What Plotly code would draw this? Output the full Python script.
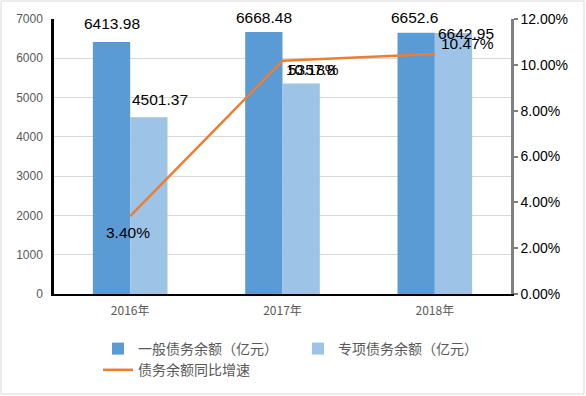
import plotly.graph_objects as go

years = ["2016年", "2017年", "2018年"]
general = [6413.98, 6668.48, 6652.6]
special = [4501.37, 5357.8, 6642.95]
growth = [3.40, 10.18, 10.47]
growth_labels = ["3.40%", "10.18%", "10.47%"]
left_ticks = [0, 1000, 2000, 3000, 4000, 5000, 6000, 7000]
right_ticks = [0, 2, 4, 6, 8, 10, 12]
right_tick_labels = ["0.00%", "2.00%", "4.00%", "6.00%", "8.00%", "10.00%", "12.00%"]

W, H = 586, 396
ml, mr, mt, mb = 54, 75, 19, 102
pw, ph = W - ml - mr, H - mt - mb

num_font = "Liberation Sans, Arial, sans-serif"
cjk_font = "Noto Sans CJK SC, sans-serif"

fig = go.Figure()
fig.add_trace(go.Bar(
    x=years, y=general, name="一般债务余额（亿元）",
    marker=dict(color="#5B9BD5", line=dict(width=0)),
))
fig.add_trace(go.Bar(
    x=years, y=special, name="专项债务余额（亿元）",
    marker=dict(color="#9DC3E6", line=dict(width=0)),
))
fig.add_trace(go.Scatter(
    x=years, y=growth, name="债务余额同比增速", yaxis="y2",
    mode="lines", line=dict(color="#ED7D31", width=2.5),
))

# data labels (pixel offsets from the mark, as placed in the reference)
half_bar = 18.5
gen_off = [(0, 19), (0, 15), (-2, 15)]
spe_off = [(11, 18), (10, 14), (13, 0)]
line_off = [(-2, -16), (30, -9), (33, 11)]
lab_font = dict(family=num_font, size=15.5, color="#000000")
for i, yr in enumerate(years):
    fig.add_annotation(x=yr, y=general[i], xref="x", yref="y", text=str(general[i]),
                       showarrow=False, xshift=-half_bar + gen_off[i][0], yshift=gen_off[i][1],
                       font=lab_font)
    fig.add_annotation(x=yr, y=special[i], xref="x", yref="y", text=str(special[i]),
                       showarrow=False, xshift=half_bar + spe_off[i][0], yshift=spe_off[i][1],
                       font=lab_font)
    fig.add_annotation(x=yr, y=growth[i], xref="x", yref="y2", text=growth_labels[i],
                       showarrow=False, xshift=line_off[i][0], yshift=line_off[i][1],
                       font=lab_font)

fig.update_layout(
    width=W, height=H,
    margin=dict(l=ml, r=mr, t=mt, b=mb),
    paper_bgcolor="white", plot_bgcolor="white",
    barmode="group", bargap=0.51, bargroupgap=0,
    font=dict(family=cjk_font, color="#595959"),
    xaxis=dict(
        showline=True, linecolor="#000000", linewidth=2,
        showgrid=False, ticks="", ticklabelstandoff=5,
        tickfont=dict(family=cjk_font, size=12, color="#595959"),
        zeroline=False,
    ),
    yaxis=dict(
        range=[0, 7000], tickvals=left_ticks, ticktext=[str(v) for v in left_ticks],
        showline=True, linecolor="#000000", linewidth=2.5,
        showgrid=True, gridcolor="#D9D9D9", gridwidth=1,
        ticks="", ticklen=0, ticklabelstandoff=6,
        tickfont=dict(family=num_font, size=12, color="#595959"),
        zeroline=False,
    ),
    yaxis2=dict(
        overlaying="y", side="right", range=[0, 12],
        tickvals=right_ticks, ticktext=right_tick_labels,
        showline=True, linecolor="#808080", linewidth=2.5,
        ticks="outside", ticklen=4, tickcolor="#808080", tickwidth=1.5,
        showgrid=False, zeroline=False,
        tickfont=dict(family=num_font, size=14, color="#000000"),
    ),
    legend=dict(
        orientation="h", xref="container", yref="container",
        x=98 / W, y=1 - 333 / H, xanchor="left", yanchor="top",
        font=dict(family=cjk_font, size=14, color="#595959"),
        entrywidth=155, tracegroupgap=0,
    ),
    showlegend=True,
)

# outer border
fig.add_shape(
    type="rect", xref="paper", yref="paper",
    x0=(1 - ml) / pw, x1=(W - 2 - ml) / pw,
    y0=-(H - 2 - mt - ph) / ph, y1=1 + (mt - 1) / ph,
    line=dict(color="#D9D9D9", width=1), fillcolor="rgba(0,0,0,0)", layer="below",
)

fig.write_html("out.html", post_script="document.body.style.margin='0';",
               config={"displayModeBar": False})
